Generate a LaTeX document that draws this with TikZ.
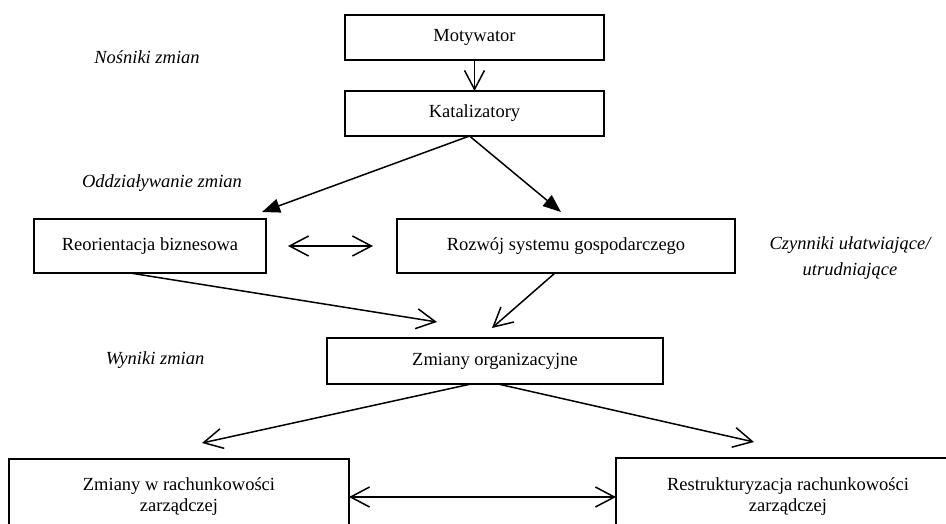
\documentclass[tikz,border=0pt]{standalone}
\usepackage{fontspec}
\setmainfont{Liberation Serif}
\usetikzlibrary{arrows.meta, positioning}

\begin{document}
\begin{tikzpicture}[
    x=1pt, y=1pt,
    font=\fontsize{18.5}{21}\selectfont,
    box/.style={draw, rectangle, line width=1.6pt, minimum height=46pt, align=center, inner sep=0pt, outer sep=0pt},
    note/.style={font=\fontsize{18.5}{21}\selectfont\itshape, align=center},
    arrow/.style={line width=1.5pt, -{Straight Barb[length=19pt,width=20pt]}},
    twoway/.style={line width=1.5pt, {Straight Barb[length=19pt,width=20pt]}-{Straight Barb[length=19pt,width=20pt]}},
    fillarrow/.style={line width=1.5pt, -{Triangle[length=18pt,width=14pt]}}
]
\useasboundingbox (0,0) rectangle (946,-523);

\node[box, minimum width=259pt, minimum height=45pt] (mot) at (474.5,-37.5) {Motywator};
\node[box, minimum width=259pt, minimum height=45pt, below=31pt of mot] (kat) {Katalizatory};
\node[box, minimum width=232pt, minimum height=54pt] (reo) at (150,-246) {Reorientacja biznesowa};
\node[box, minimum width=338pt, minimum height=54pt, right=131pt of reo] (roz) {Rozwój systemu gospodarczego};
\node[box, minimum width=336pt] (org) at (495,-361) {Zmiany organizacyjne};
\node[box, minimum width=340pt, minimum height=76pt] (zr) at (179,-497) {Zmiany w rachunkowości\\zarządczej};
\node[box, minimum width=344pt, minimum height=78pt, right=267pt of zr] (rr) {Restrukturyzacja rachunkowości\\zarządczej};

\node[note] (nos) at (147,-57) {Nośniki zmian};
\node[note] (odd) at (162,-183) {Oddziaływanie zmian};
\node[note] (czy) at (850,-258) {Czynniki ułatwiające/\\[5pt]utrudniające};
\node[note] (wyn) at (155,-360) {Wyniki zmian};

\draw[arrow] (mot) -- (kat);
\draw[fillarrow] ([xshift=-5pt]kat.south) -- ([shift={(-4pt,7pt)}]reo.north east);
\draw[fillarrow] ([xshift=-5pt]kat.south) -- ([shift={(-5pt,7pt)}]roz.north);
\draw[twoway, shorten <=22pt, shorten >=24pt] (reo) -- (roz);
\draw[arrow] ([xshift=-20pt]reo.south) -- ([shift={(110pt,16pt)}]org.north west);
\draw[arrow] ([xshift=-11pt]roz.south) -- ([shift={(-3pt,10pt)}]org.north);
\draw[arrow] ([xshift=-24pt]org.south) -- ([shift={(23pt,16pt)}]zr.north);
\draw[arrow] ([xshift=3pt]org.south) -- ([shift={(-34pt,16pt)}]rr.north);
\draw[twoway] (zr) -- (rr);

\end{tikzpicture}
\end{document}
